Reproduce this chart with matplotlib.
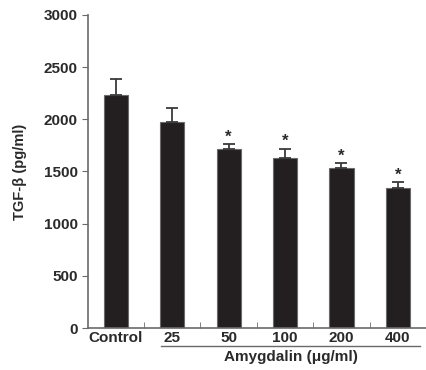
import matplotlib.pyplot as plt
import numpy as np
from matplotlib.lines import Line2D

gruplar = ['Control', '25', '50', '100', '200', '400']
ortalamalar = [2230, 1975, 1715, 1625, 1530, 1340]
hatalar = [160, 135, 50, 95, 50, 55]
yildiz = [False, False, True, True, True, True]

plt.rcParams['font.family'] = ['Liberation Sans', 'DejaVu Sans']
plt.rcParams['font.weight'] = 'bold'

fig = plt.figure(figsize=(4.27, 3.7), dpi=100)
ax = fig.add_axes([0.2054, 0.1135, 0.7923, 0.846])

x = np.arange(len(gruplar))
ax.bar(x, ortalamalar, width=0.43, color='#231f20', edgecolor='#6a6a6a', linewidth=0.8,
       yerr=[np.zeros(len(hatalar)), hatalar],
       error_kw={'ecolor': '#3a3a3a', 'capsize': 4, 'elinewidth': 1.3, 'capthick': 1.3})

for i in range(len(gruplar)):
    if yildiz[i]:
        ax.text(x[i], ortalamalar[i] + hatalar[i] - 5, '*', ha='center', va='bottom',
                fontsize=12, fontweight='bold', color='#2a2a2a')

ax.set_xlim(-0.5, 5.5)
ax.set_ylim(0, 3000)
ax.set_yticks(np.arange(0, 3001, 500))
ax.set_xticks(x)
ax.set_xticklabels(gruplar, fontsize=11, fontweight='bold', color='#2a2a2a')
ax.set_xticks(np.arange(0.5, 5.6, 1), minor=True)
ax.tick_params(axis='x', which='major', length=0, pad=2)
ax.tick_params(axis='x', which='minor', direction='in', length=4, color='#6a6a6a')
ax.tick_params(axis='y', direction='out', length=4, color='#6a6a6a', labelsize=11,
               labelcolor='#2a2a2a', pad=3)
for lab in ax.get_yticklabels():
    lab.set_fontweight('bold')

ax.spines['top'].set_visible(False)
ax.spines['right'].set_visible(False)
ax.spines['left'].set_color('#6a6a6a')
ax.spines['bottom'].set_color('#6a6a6a')
ax.spines['left'].set_linewidth(1.2)
ax.spines['bottom'].set_linewidth(1.2)

ax.set_ylabel('TGF-β (pg/ml)', fontsize=10.5, fontweight='bold', color='#2a2a2a', labelpad=12)

trans = ax.get_xaxis_transform()
ax.add_line(Line2D([0.8, 5.39], [-0.0575, -0.0575], transform=trans, color='#6a6a6a',
                   linewidth=1.0, clip_on=False))
ax.text(3.1, -0.093, 'Amygdalin (μg/ml)', transform=trans, ha='center', va='center',
        fontsize=11, fontweight='bold', color='#2a2a2a')

fig.savefig('out.png', dpi=100)
